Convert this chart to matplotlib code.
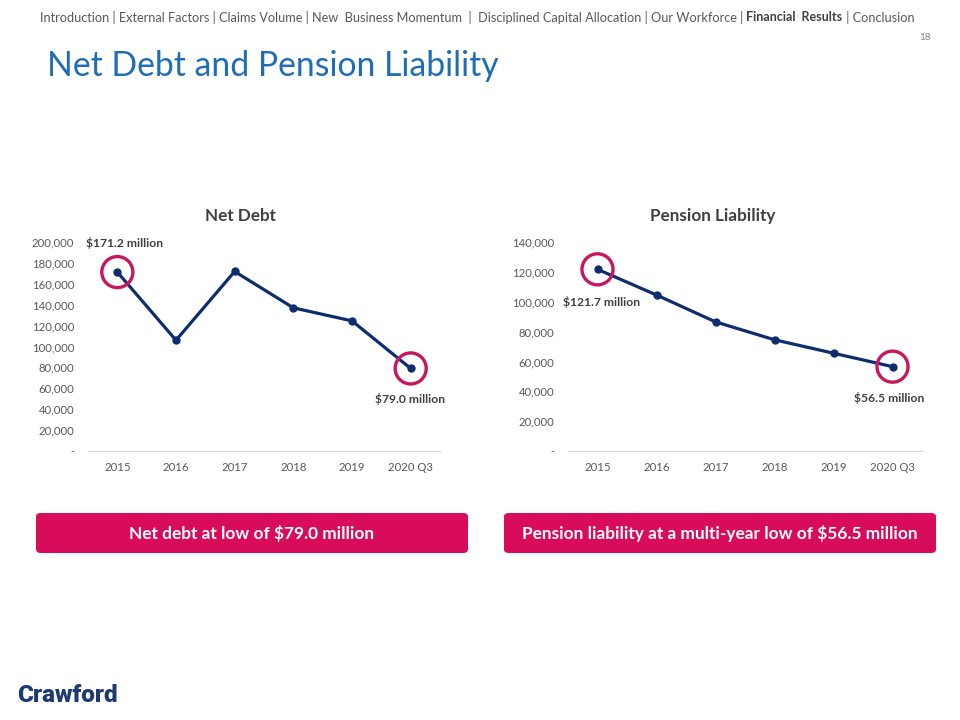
import matplotlib.pyplot as plt
from matplotlib.patches import FancyBboxPatch

plt.rcParams['font.family'] = ['Lato', 'DejaVu Sans']

years = ['2015', '2016', '2017', '2018', '2019', '2020 Q3']
net_debt = [171200, 106000, 171800, 137000, 124500, 79000]
pension = [121700, 104500, 86500, 74500, 65500, 56500]

nav_before = 'Introduction | External Factors | Claims Volume | New  Business Momentum  |  Disciplined Capital Allocation | Our Workforce | '
nav_bold = 'Financial  Results'
nav_after = ' | Conclusion'

LINE = '#0E2D6E'
PINK = '#C8175D'
GRAY = '#595959'
W, H = 960, 720

fig = plt.figure(figsize=(9.6, 7.2), dpi=100)


def px_axes(x0, y0, x1, y1):
    return fig.add_axes([x0 / W, 1 - y1 / H, (x1 - x0) / W, (y1 - y0) / H])


def fmt(v, pos=None):
    return '-' if v == 0 else f'{int(v):,}'


def draw_chart(ax, vals, ymax, step, title, title_x, labels):
    x = range(len(vals))
    ax.plot(x, vals, color=LINE, lw=2.3, marker='o', ms=5, zorder=3)
    for i, txt, dx, dy in labels:
        ax.scatter([i], [vals[i]], s=500, facecolors='none', edgecolors=PINK, linewidths=2.4, zorder=4)
        ax.annotate(txt, (i, vals[i]), xytext=(dx, dy), textcoords='offset pixels',
                    ha='center', va='center', fontsize=8.7, fontweight='bold', color='#404040')
    ax.set_xlim(-0.5, len(vals) - 0.5)
    ax.set_ylim(0, ymax)
    ax.set_yticks(range(0, ymax + 1, step))
    ax.yaxis.set_major_formatter(plt.FuncFormatter(fmt))
    ax.set_xticks(list(x))
    ax.set_xticklabels(years)
    ax.tick_params(axis='both', length=0, labelsize=8.2, labelcolor=GRAY)
    ax.tick_params(axis='y', pad=10)
    ax.tick_params(axis='x', pad=8)
    for s in ['top', 'right', 'left']:
        ax.spines[s].set_visible(False)
    ax.spines['bottom'].set_color('#D9D9D9')
    fig.text(title_x / W, 1 - 216 / H, title, fontsize=12.3, fontweight='bold', color='#404040',
             ha='center', va='center')


ax1 = px_axes(88, 242, 440, 451)
draw_chart(ax1, net_debt, 200000, 20000, 'Net Debt', 240,
           [(0, '$171.2 million', 7, 29), (5, '$79.0 million', -1, -31)])

ax2 = px_axes(568, 242, 922, 451)
draw_chart(ax2, pension, 140000, 20000, 'Pension Liability', 713,
           [(0, '$121.7 million', 4, -33), (5, '$56.5 million', -3, -31)])

# banners
for x0, x1, txt in [(36, 468, 'Net debt at low of $79.0 million'),
                    (504, 936, 'Pension liability at a multi-year low of $56.5 million')]:
    box = FancyBboxPatch((x0 / W, 1 - 553 / H), (x1 - x0) / W, 40 / H,
                         boxstyle='round,pad=0,rounding_size=0.005',
                         transform=fig.transFigure, facecolor='#D90C59', edgecolor='none')
    fig.patches.append(box)
    fig.text((x0 + x1) / 2 / W, 1 - 533 / H, txt, ha='center', va='center',
             fontsize=12.4, fontweight='bold', color='white')

# header navigation
renderer = fig.canvas.get_renderer()
t = fig.text(40 / W, 1 - 17 / H, nav_before, fontsize=9.2, color=GRAY, va='center')
x = t.get_window_extent(renderer).x1
t = fig.text(x / W, 1 - 17 / H, nav_bold, fontsize=9, color='#404040', fontweight='bold', va='center')
x = t.get_window_extent(renderer).x1
fig.text(x / W, 1 - 17 / H, nav_after, fontsize=9.2, color=GRAY, va='center')

fig.text(931 / W, 1 - 38 / H, '18', fontsize=7, color='#7F7F7F', ha='right', va='center')
fig.text(47 / W, 1 - 66 / H, 'Net Debt and Pension Liability', fontsize=24.3, color='#1F6DB6',
         va='center', ha='left')

fig.text(17 / W, 1 - 695 / H, 'Crawford', fontsize=17.5, color='#1F3A70', fontweight='black',
         family=['Roboto', 'DejaVu Sans'], va='center', ha='left')

fig.savefig('out.png', dpi=100)
